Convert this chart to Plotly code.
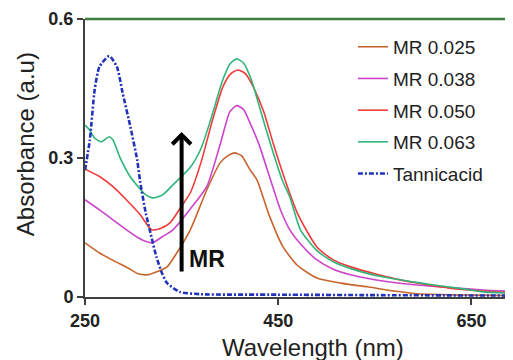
import plotly.graph_objects as go

# ---- data ----
wl_025 = [250, 265, 280, 295, 305, 315, 325, 335, 345, 359, 376, 390, 398, 405, 412, 421, 428, 440, 455, 470, 490, 515, 542, 570, 594, 650, 693]
ab_025 = [0.117, 0.095, 0.078, 0.062, 0.050, 0.048, 0.055, 0.065, 0.095, 0.145, 0.231, 0.29, 0.305, 0.311, 0.305, 0.274, 0.253, 0.18, 0.108, 0.068, 0.041, 0.030, 0.022, 0.013, 0.007, 0.004, 0.003]

wl_038 = [250, 265, 280, 293, 305, 314, 320, 330, 341, 359, 376, 390, 400, 407, 414, 422, 430, 442, 452, 462, 475, 490, 507, 525, 560, 594, 630, 662, 693]
ab_038 = [0.21, 0.188, 0.165, 0.145, 0.128, 0.119, 0.117, 0.13, 0.145, 0.19, 0.238, 0.33, 0.40, 0.413, 0.405, 0.37, 0.33, 0.253, 0.19, 0.145, 0.11, 0.08, 0.06, 0.048, 0.034, 0.026, 0.02, 0.015, 0.012]

wl_050 = [250, 265, 279, 295, 307, 319, 328, 338, 348, 359, 370, 382, 393, 401, 408, 416, 425, 435, 445, 457, 470, 490, 507, 525, 550, 576, 600, 628, 660, 693]
ab_050 = [0.276, 0.26, 0.238, 0.205, 0.178, 0.145, 0.148, 0.16, 0.19, 0.225, 0.29, 0.382, 0.455, 0.482, 0.49, 0.482, 0.45, 0.40, 0.33, 0.253, 0.18, 0.108, 0.08, 0.065, 0.05, 0.037, 0.028, 0.019, 0.013, 0.009]

wl_063 = [250, 255, 260, 267, 275, 279, 286, 297, 305, 312, 320, 330, 341, 359, 370, 380, 392, 400, 407, 414, 422, 432, 442, 454, 462, 473, 490, 507, 530, 559, 585, 611, 640, 662, 693]
ab_063 = [0.371, 0.36, 0.343, 0.335, 0.346, 0.339, 0.302, 0.259, 0.238, 0.222, 0.214, 0.22, 0.242, 0.28, 0.32, 0.382, 0.465, 0.503, 0.514, 0.505, 0.47, 0.40, 0.33, 0.253, 0.216, 0.145, 0.1, 0.076, 0.058, 0.043, 0.034, 0.026, 0.018, 0.011, 0.008]

wl_ta = [250, 255, 260, 265, 275, 283, 289, 297, 304, 307, 313, 317, 324, 330, 335, 348, 370, 450, 550, 693]
ab_ta = [0.274, 0.339, 0.447, 0.497, 0.52, 0.497, 0.44, 0.367, 0.296, 0.25, 0.18, 0.145, 0.086, 0.05, 0.03, 0.011, 0.006, 0.005, 0.004, 0.003]

series_names = ["MR 0.025", "MR 0.038", "MR 0.050", "MR 0.063", "Tannicacid"]
x_ticks = [250, 450, 650]
y_ticks = [0, 0.3, 0.6]
y_tick_labels = ["0", "0.3", "0.6"]

colors = ["#C8642D", "#CC44CC", "#F23A3A", "#2FB57A", "#2233BB"]

fig = go.Figure()
all_x = [wl_025, wl_038, wl_050, wl_063, wl_ta]
all_y = [ab_025, ab_038, ab_050, ab_063, ab_ta]
for i, (xs, ys) in enumerate(zip(all_x, all_y)):
    is_ta = i == 4
    fig.add_trace(go.Scatter(
        x=xs, y=ys, mode="lines", name=series_names[i],
        legendgroup=f"g{i}",
        line=dict(color=colors[i], width=2.6 if is_ta else 1.6,
                  dash="5px,2px,2px,2px" if is_ta else "solid",
                  shape="spline", smoothing=0.6),
    ))

FONT = "Liberation Sans, Arial, sans-serif"

fig.update_layout(
    width=505, height=352,
    margin=dict(l=77, r=0, t=11, b=63),
    paper_bgcolor="white", plot_bgcolor="white",
    font=dict(family=FONT, color="#222222"),
    showlegend=True,
    legend=dict(x=0.626, y=0.968, xanchor="left", yanchor="top",
                font=dict(family=FONT, size=19, color="#222222"),
                tracegroupgap=4, bgcolor="rgba(0,0,0,0)", itemwidth=30),
    xaxis=dict(range=[250, 693], tickvals=x_ticks, ticktext=[str(v) for v in x_ticks],
               showgrid=False, zeroline=False, showline=True, linecolor="#404040", linewidth=2,
               ticks="outside", ticklen=6, tickwidth=2, tickcolor="#404040",
               tickfont=dict(family=FONT, size=18, color="#222222", weight="bold")),
    yaxis=dict(range=[0, 0.6], tickvals=y_ticks, ticktext=y_tick_labels,
               showgrid=False, zeroline=False, showline=True, linecolor="#404040", linewidth=2,
               ticks="outside", ticklen=6, tickwidth=2, tickcolor="#404040",
               tickfont=dict(family=FONT, size=18, color="#222222", weight="bold")),
)

# green top border
fig.add_shape(type="line", xref="paper", yref="paper", x0=0, x1=1, y0=1, y1=1,
              line=dict(color="#3E7D3E", width=2.5))

# axis titles
fig.add_annotation(text="Wavelength (nm)", xref="paper", yref="paper", x=0.532, y=-0.18,
                   xanchor="center", yanchor="middle", showarrow=False,
                   font=dict(family=FONT, size=24, color="#222222"))
fig.add_annotation(text="Absorbance (a.u)", xref="paper", yref="paper", x=-0.14, y=0.55,
                   xanchor="center", yanchor="middle", textangle=-90, showarrow=False,
                   font=dict(family=FONT, size=24, color="#222222"))

# MR arrow
fig.add_annotation(x=350, y=0.356, ax=350, ay=0.052, xref="x", yref="y", axref="x", ayref="y",
                   text="", showarrow=True, arrowhead=4, arrowsize=0.9, arrowwidth=4,
                   arrowcolor="#000000")
fig.add_annotation(x=376, y=0.082, xref="x", yref="y", text="<b>MR</b>", showarrow=False,
                   font=dict(family=FONT, size=23, color="#111111"))

fig.write_html("out.html")
